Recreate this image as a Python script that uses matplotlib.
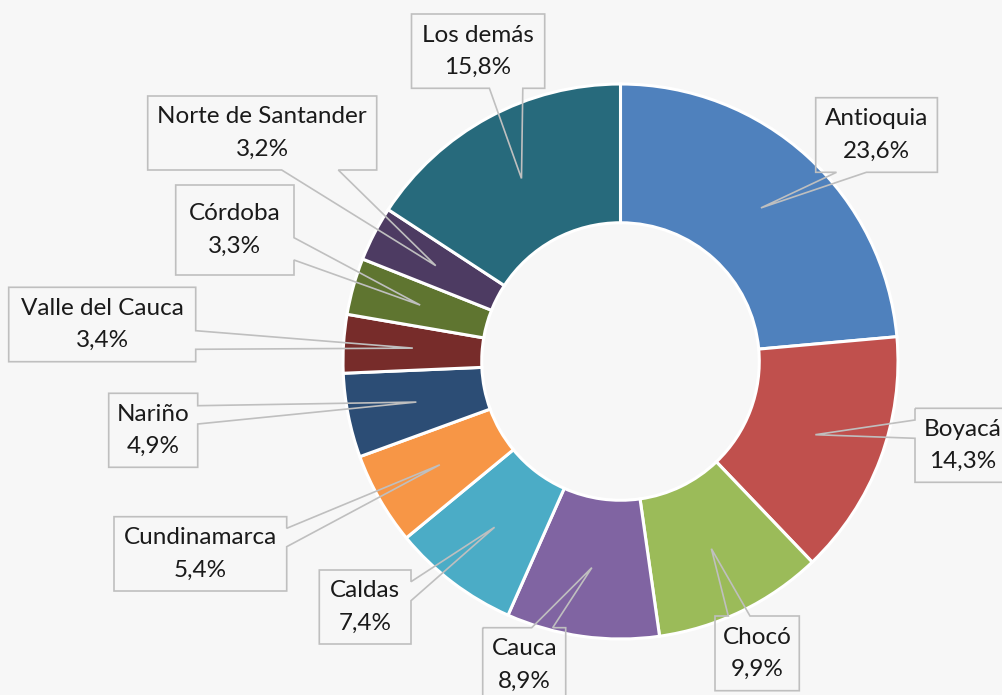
import matplotlib
matplotlib.use("Agg")
import matplotlib.pyplot as plt
from matplotlib.patches import Polygon
import numpy as np

# ---- data ----
categories = ["Antioquia", "Boyacá", "Chocó", "Cauca", "Caldas", "Cundinamarca",
              "Nariño", "Valle del Cauca", "Córdoba", "Norte de Santander", "Los demás"]
values = [23.6, 14.3, 9.9, 8.9, 7.4, 5.4, 4.9, 3.4, 3.3, 3.2, 15.8]
value_labels = ["23,6%", "14,3%", "9,9%", "8,9%", "7,4%", "5,4%",
                "4,9%", "3,4%", "3,3%", "3,2%", "15,8%"]
colors = ["#4F81BD", "#C0504D", "#9BBB59", "#8064A2", "#4BACC6", "#F79646",
          "#2C4D75", "#772C2A", "#5F7530", "#4D3B62", "#276A7C"]

# ---- layout (pixels, y measured from top) ----
W, H = 1002, 695
CX, CY, R = 620.5, 361.5, 277.5
HOLE = 0.5
BG = "#F7F7F7"
# callout boxes: (left, top, right, bottom), pointer side, pointer bases
boxes = {
    "Antioquia": ((815.7, 97.7, 937.4, 172.3), "bottom", (836.5, 866.4)),
    "Boyacá": ((915.0, 408.3, 1010.0, 482.3), "left", (420.0, 438.3)),
    "Chocó": ((715.0, 616.0, 799.3, 690.7), "top", (728.3, 750.0)),
    "Cauca": ((482.7, 627.7, 565.7, 702.0), "top", (531.7, 552.7)),
    "Caldas": ((319.3, 570.0, 411.0, 644.0), "right", (581.7, 600.7)),
    "Cundinamarca": ((114.0, 516.7, 286.7, 591.0), "right", (528.3, 546.7)),
    "Nariño": ((108.7, 393.3, 197.7, 467.3), "right", (405.7, 424.0)),
    "Valle del Cauca": ((8.7, 287.3, 195.7, 361.7), "right", (330.7, 349.3)),
    "Córdoba": ((175.7, 185.0, 294.0, 275.0), "right", (237.7, 260.0)),
    "Norte de Santander": ((147.7, 96.0, 376.7, 170.0), "bottom", (281.7, 338.3)),
    "Los demás": ((411.5, 14.0, 544.7, 88.3), "bottom", (489.4, 522.8)),
}

plt.rcParams["font.family"] = ["Lato", "DejaVu Sans"]

fig = plt.figure(figsize=(W / 100, H / 100), dpi=100, facecolor=BG)
ax = fig.add_axes([0, 0, 1, 1])
ax.set_facecolor(BG)

def fy(y):
    return H - y

wedges, _ = ax.pie(values, colors=colors, startangle=90, counterclock=False,
                   center=(CX, fy(CY)), radius=R, frame=True,
                   wedgeprops=dict(width=R * HOLE, edgecolor="white", linewidth=2.2))

ax.set_xlim(0, W)
ax.set_ylim(0, H)
ax.set_aspect("auto")
ax.axis("off")

rmid = R * (1 + (1 - HOLE)) / 2
for w, cat, lab in zip(wedges, categories, value_labels):
    theta = np.deg2rad((w.theta1 + w.theta2) / 2)
    axp = w.center[0] + rmid * np.cos(theta)
    ayp = w.center[1] + rmid * np.sin(theta)
    (l, t, r, b), side, (b1, b2) = boxes[cat]
    anchor = (axp, H - ayp)  # pixel coords (y from top)
    if side == "top":
        pts = [(l, t), (b1, t), anchor, (b2, t), (r, t), (r, b), (l, b)]
    elif side == "right":
        pts = [(l, t), (r, t), (r, b1), anchor, (r, b2), (r, b), (l, b)]
    elif side == "bottom":
        pts = [(l, t), (r, t), (r, b), (b2, b), anchor, (b1, b), (l, b)]
    else:
        pts = [(l, t), (r, t), (r, b), (l, b), (l, b2), anchor, (l, b1)]
    pts = [(x, fy(y)) for x, y in pts]
    ax.add_patch(Polygon(pts, closed=True, fill=False, edgecolor="#BFBFBF",
                         linewidth=1.2, joinstyle="miter", zorder=5))
    ax.text((l + r) / 2, fy((t + b) / 2), f"{cat}\n{lab}", ha="center", va="center",
            fontsize=17.5, linespacing=1.65, color="#1A1A1A", zorder=6)

fig.savefig("out.png", dpi=100, facecolor=BG)
